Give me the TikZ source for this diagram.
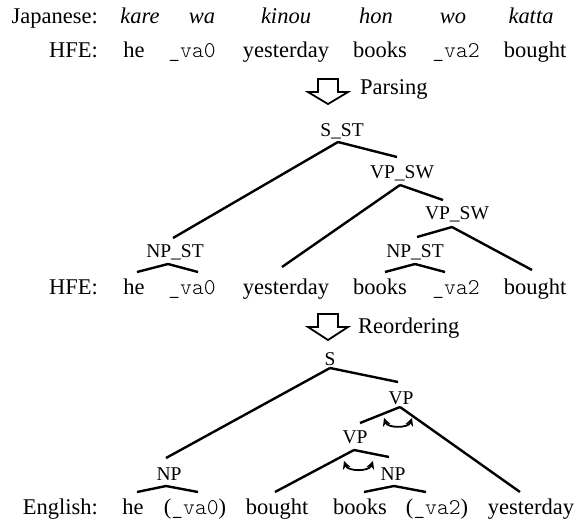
\documentclass[tikz,border=0pt]{standalone}
\usepackage{fontspec}
\setmainfont{Liberation Serif}
\setmonofont{Latin Modern Mono Light}
\usetikzlibrary{arrows.meta}
\newcommand{\vv}[1]{{\fontsize{22.5}{27}\selectfont\ttfamily #1}}
\begin{document}
\begin{tikzpicture}[x=1pt,y=-1pt,
 wordnode/.style={anchor=base,inner sep=0pt,font=\fontsize{22.5}{27}\selectfont},
 jword/.style={wordnode,font=\fontsize{22.5}{27}\selectfont\itshape},
 rowhead/.style={wordnode,anchor=base east},
 catnode/.style={anchor=base,inner sep=0pt,font=\fontsize{19.5}{23}\selectfont},
 branch/.style={line width=2.4pt},
 swaparrow/.style={line width=1.8pt,{Stealth[length=8pt,width=8pt]}-{Stealth[length=8pt,width=8pt]}},
 bigarrow/.style={line width=1.8pt,fill=white,line join=miter}]
\useasboundingbox (0,0) rectangle (576,520);

% Row 1: Japanese
\node[rowhead] (jp) at (98,23) {Japanese:};
\node[jword] (kare) at (140,23) {kare};
\node[jword] (wa) at (202,23) {wa};
\node[jword] (kinou) at (286,23) {kinou};
\node[jword] (hon) at (376,23) {hon};
\node[jword] (wo) at (453,23) {wo};
\node[jword] (katta) at (531,23) {katta};

% Row 2: HFE
\node[rowhead] (hfeA) at (98,57) {HFE:};
\node[wordnode] (heA) at (134,57) {he};
\node[wordnode] (vaA) at (192,57) {\vv{\_va0}};
\node[wordnode] (yeA) at (286,57) {yesterday};
\node[wordnode] (boA) at (380,57) {books};
\node[wordnode] (vbA) at (456,57) {\vv{\_va2}};
\node[wordnode] (buA) at (535,57) {bought};

% Parsing arrow
\draw[bigarrow] (318,79) -- (338,79) -- (338,92) -- (348,92) -- (328,104) -- (308,92) -- (318,92) -- cycle;
\node[wordnode,anchor=base west] (parsing) at (360,94) {Parsing};

% Parse tree labels
\node[catnode] (sst) at (342,136) {S\_ST};
\node[catnode] (vpswA) at (402,178) {VP\_SW};
\node[catnode] (vpswB) at (457,219) {VP\_SW};
\node[catnode] (npstA) at (175,257) {NP\_ST};
\node[catnode] (npstB) at (415,257) {NP\_ST};

% Row 3: HFE
\node[rowhead] (hfeB) at (98,294) {HFE:};
\node[wordnode] (heB) at (134,294) {he};
\node[wordnode] (vaB) at (192,294) {\vv{\_va0}};
\node[wordnode] (yeB) at (286,294) {yesterday};
\node[wordnode] (boB) at (380,294) {books};
\node[wordnode] (vbB) at (456,294) {\vv{\_va2}};
\node[wordnode] (buB) at (535,294) {bought};

% Parse tree branches
\draw[branch] ([shift={(-4,6)}]sst.base) -- ([shift={(-2,-19)}]npstA.base);
\draw[branch] ([shift={(-4,6)}]sst.base) -- ([shift={(-5,-21)}]vpswA.base);
\draw[branch] ([shift={(-2,7)}]vpswA.base) -- ([shift={(-4,-27)}]yeB.base);
\draw[branch] ([shift={(-2,7)}]vpswA.base) -- ([shift={(-14,-19)}]vpswB.base);
\draw[branch] ([shift={(-5,8)}]vpswB.base) -- ([shift={(2,-20)}]npstB.base);
\draw[branch] ([shift={(-5,8)}]vpswB.base) -- ([shift={(-3,-24)}]buB.base);
\draw[branch] ([shift={(-7,7)}]npstA.base) -- ([shift={(3,-22)}]heB.base);
\draw[branch] ([shift={(-7,7)}]npstA.base) -- ([shift={(6,-22)}]vaB.base);
\draw[branch] ([shift={(0,7)}]npstB.base) -- ([shift={(5,-22)}]boB.base);
\draw[branch] ([shift={(0,7)}]npstB.base) -- ([shift={(-11,-22)}]vbB.base);

% Reordering arrow
\draw[bigarrow] (318,314) -- (338,314) -- (338,327) -- (348,327) -- (328,340) -- (308,327) -- (318,327) -- cycle;
\node[wordnode,anchor=base west] (reordering) at (358,333) {Reordering};

% Reordered tree labels
\node[catnode] (s) at (330,365) {S};
\node[catnode] (vpA) at (401,404) {VP};
\node[catnode] (vpB) at (355,443) {VP};
\node[catnode] (npA) at (169,480) {NP};
\node[catnode] (npB) at (393,480) {NP};

% Row 4: English
\node[rowhead] (en) at (98,514) {English:};
\node[wordnode] (heC) at (133,514) {he};
\node[wordnode] (vaC) at (195,514) {(\vv{\_va0})};
\node[wordnode] (buC) at (277,514) {bought};
\node[wordnode] (boC) at (360,514) {books};
\node[wordnode] (vbC) at (437,514) {(\vv{\_va2})};
\node[wordnode] (yeC) at (531,514) {yesterday};

% Reordered tree branches
\draw[branch] ([shift={(0,3)}]s.base) -- ([shift={(-3,-22)}]npA.base);
\draw[branch] ([shift={(0,3)}]s.base) -- ([shift={(-3,-22)}]vpA.base);
\draw[branch] ([shift={(-1,3)}]vpA.base) -- ([shift={(5,-20)}]vpB.base);
\draw[branch] ([shift={(-1,3)}]vpA.base) -- ([shift={(-11,-22)}]yeC.base);
\draw[branch] ([shift={(-1,7)}]vpB.base) -- ([shift={(-2,-22)}]buC.base);
\draw[branch] ([shift={(-1,7)}]vpB.base) -- ([shift={(-4,-23)}]npB.base);
\draw[branch] ([shift={(-3,6)}]npA.base) -- ([shift={(4,-22)}]heC.base);
\draw[branch] ([shift={(-3,6)}]npA.base) -- ([shift={(3,-22)}]vaC.base);
\draw[branch] ([shift={(1,6)}]npB.base) -- ([shift={(4,-22)}]boC.base);
\draw[branch] ([shift={(1,6)}]npB.base) -- ([shift={(-11,-22)}]vbC.base);

% Swap arrows
\draw[swaparrow] ([shift={(-17,14)}]vpA.base) to[bend right=70] ([shift={(11,14)}]vpA.base);
\draw[swaparrow] ([shift={(-11,18)}]vpB.base) to[bend right=70] ([shift={(18,18)}]vpB.base);
\end{tikzpicture}
\end{document}
